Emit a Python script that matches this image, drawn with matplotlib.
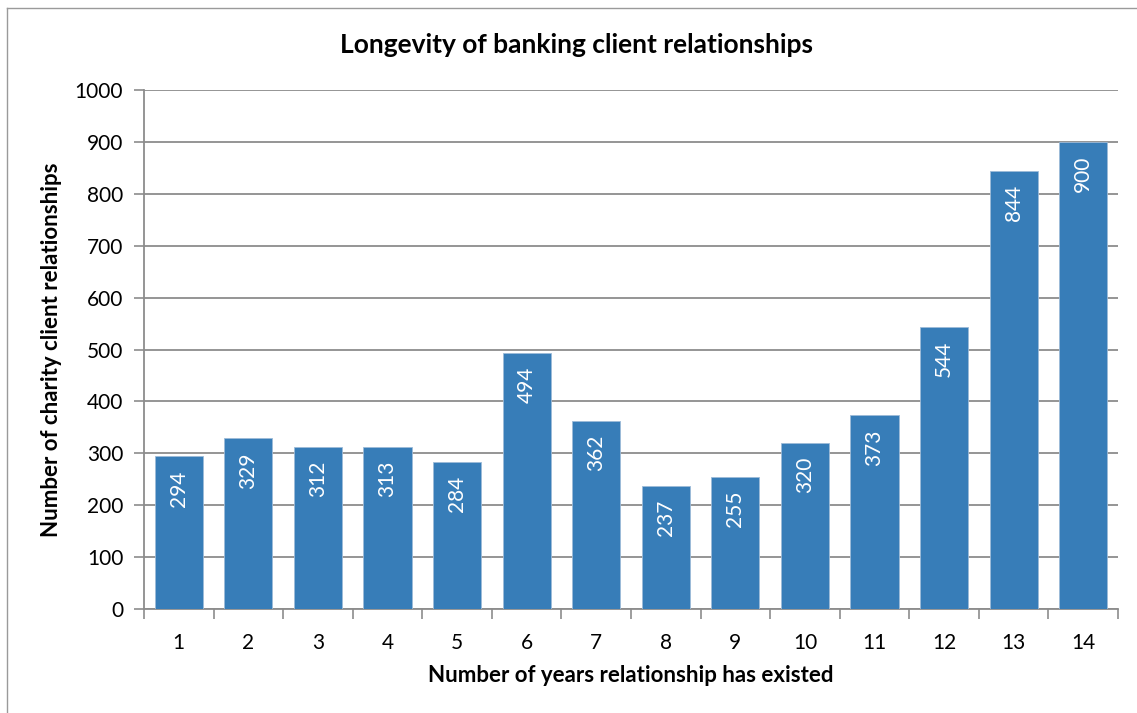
import matplotlib
matplotlib.use("Agg")
import matplotlib.pyplot as plt
from matplotlib.lines import Line2D

plt.rcParams['font.family'] = ['Lato', 'DejaVu Sans']

years = [str(i) for i in range(1, 15)]
relationships = [294, 329, 312, 313, 284, 494, 362, 237, 255, 320, 373, 544, 844, 900]
y_ticks = [0, 100, 200, 300, 400, 500, 600, 700, 800, 900, 1000]

title = "Longevity of banking client relationships"
x_label = "Number of years relationship has existed"
y_label = "Number of charity client relationships"

bar_color = "#377DB8"
grid_color = "#8C8C8C"

W, H = 1137, 713
fig = plt.figure(figsize=(W / 100, H / 100), dpi=100)
ax = fig.add_axes([144 / W, 1 - 609 / H, (1118 - 144) / W, (609 - 90) / H])

x = list(range(len(years)))
bars = ax.bar(x, relationships, width=0.69, color=bar_color, zorder=3,
              edgecolor="#9DBBD8", linewidth=0.6)

for xi, v in zip(x, relationships):
    ax.annotate(str(v), (xi, v), xytext=(0, -10), textcoords="offset points",
                rotation=90, ha="center", va="top", color="white", fontsize=15,
                zorder=4)

ax.set_xlim(-0.5, len(years) - 0.5)
ax.set_ylim(0, 1000)
ax.set_yticks(y_ticks)
ax.set_yticklabels([str(t) for t in y_ticks], fontsize=15)
ax.set_xticks(x)
ax.set_xticklabels(years, fontsize=15)
ax.tick_params(axis="x", length=0, pad=17)
# category boundary tick marks below the axis
ax.set_xticks([i - 0.5 for i in range(len(years) + 1)], minor=True)
ax.tick_params(axis="x", which="minor", length=7, width=1.2, color=grid_color,
               direction="out")
ax.tick_params(axis="y", length=7, width=1.2, color=grid_color, pad=8)

ax.yaxis.grid(True, color=grid_color, linewidth=1.3, zorder=0)
ax.set_axisbelow(True)
for s in ("top", "right"):
    ax.spines[s].set_visible(False)
ax.spines["left"].set_color(grid_color)
ax.spines["left"].set_linewidth(1.3)
ax.spines["bottom"].set_color(grid_color)
ax.spines["bottom"].set_linewidth(1.3)

fig.text(576 / W, 1 - 45 / H, title, ha="center", va="center",
         fontsize=19, fontweight="bold")
fig.text(631 / W, 1 - 676 / H, x_label, ha="center", va="center",
         fontsize=16, fontweight="bold")
fig.text(52 / W, 1 - 350 / H, y_label, ha="center", va="center",
         rotation=90, fontsize=16, fontweight="bold")

# chart area frame
fig.add_artist(Line2D([7 / W, 7 / W], [0, 1 - 8 / H], color="#9A9A9A",
                      linewidth=1.0, transform=fig.transFigure))
fig.add_artist(Line2D([7 / W, 1], [1 - 8 / H, 1 - 8 / H], color="#9A9A9A",
                      linewidth=1.0, transform=fig.transFigure))

fig.savefig("out.png", dpi=100)
